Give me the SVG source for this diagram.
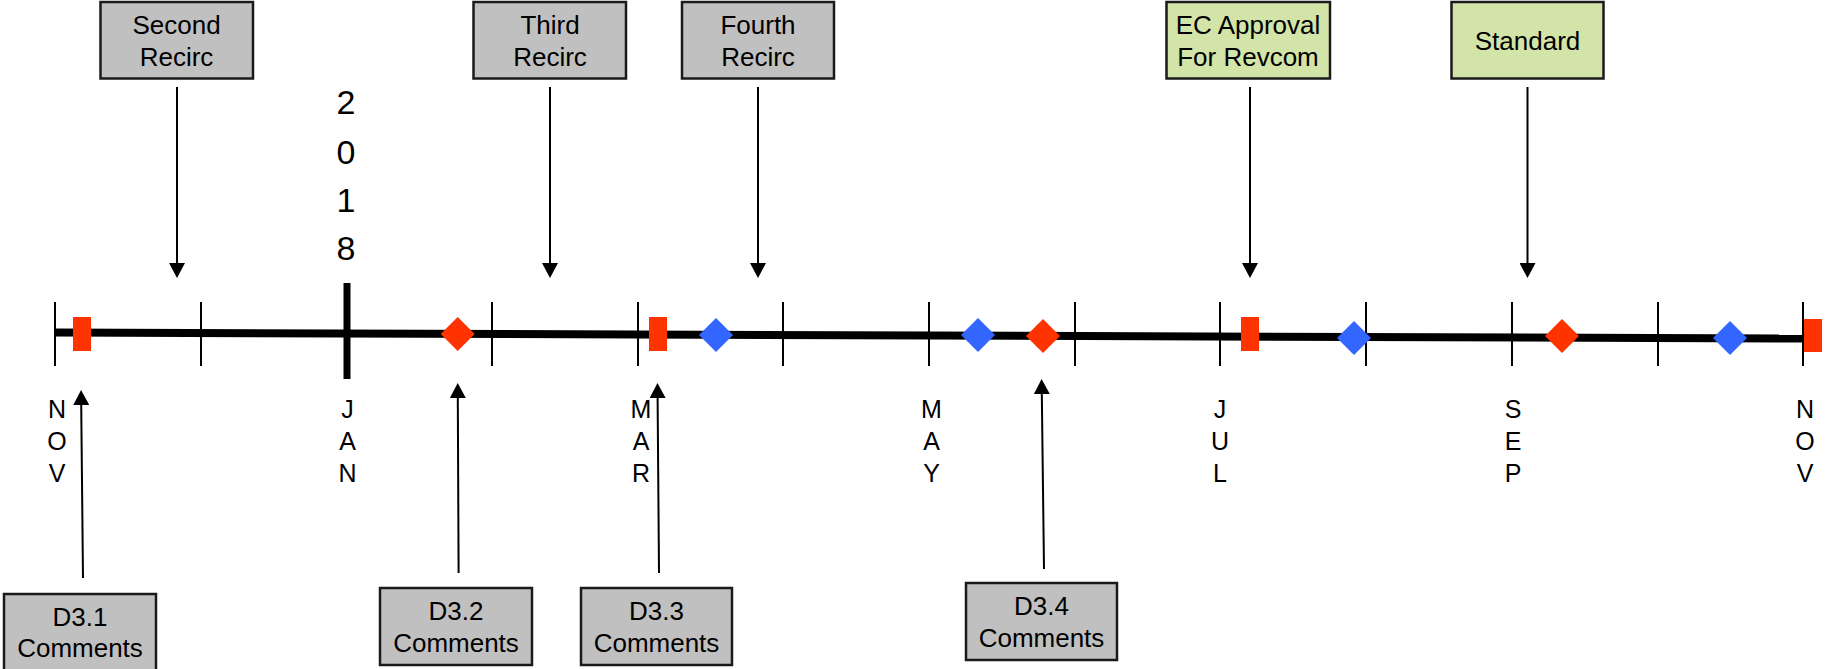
<svg xmlns="http://www.w3.org/2000/svg" width="1837" height="669" viewBox="0 0 1837 669">
<style>
text{font-family:"Liberation Sans",Arial,sans-serif;fill:#000}
.bt{font-size:26px;text-anchor:middle}
.mo{font-size:25px;text-anchor:middle}
.yr{font-size:34px;text-anchor:middle}
.gray{fill:#c0c0c0;stroke:#1a1a1a;stroke-width:2.5}
.green{fill:#d3e4a8;stroke:#1a1a1a;stroke-width:2.5}
.tick{stroke:#000;stroke-width:2}
.arr{stroke:#000;stroke-width:2;fill:none;marker-end:url(#ah)}
.red{fill:#ff3300}
.blue{fill:#3366ff}
</style>
<defs>
<marker id="ah" viewBox="0 0 15 16" refX="1" refY="8" markerWidth="15" markerHeight="16" markerUnits="userSpaceOnUse" orient="auto">
<path d="M0,0 L15,8 L0,16 z" fill="#000"/>
</marker>
</defs>
<rect width="1837" height="669" fill="#fff"/>

<g id="timeline">
<line x1="55" y1="332.5" x2="1805" y2="338.5" stroke="#000" stroke-width="8"/>
<line class="tick" x1="55" y1="302" x2="55" y2="366"/>
<line class="tick" x1="201" y1="302" x2="201" y2="366"/>
<line x1="347" y1="283" x2="347" y2="379" stroke="#000" stroke-width="7"/>
<line class="tick" x1="492" y1="302" x2="492" y2="366"/>
<line class="tick" x1="638" y1="302" x2="638" y2="366"/>
<line class="tick" x1="783" y1="302" x2="783" y2="366"/>
<line class="tick" x1="929" y1="302" x2="929" y2="366"/>
<line class="tick" x1="1075" y1="302" x2="1075" y2="366"/>
<line class="tick" x1="1220" y1="302" x2="1220" y2="366"/>
<line class="tick" x1="1366" y1="302" x2="1366" y2="366"/>
<line class="tick" x1="1512" y1="302" x2="1512" y2="366"/>
<line class="tick" x1="1658" y1="302" x2="1658" y2="366"/>
<line class="tick" x1="1803" y1="302" x2="1803" y2="366"/>
</g>

<g id="markers">
<rect class="red" x="73" y="317" width="18" height="34"/>
<polygon class="red" points="457.7,317 474.7,334 457.7,351 440.7,334"/>
<rect class="red" x="649" y="317" width="18" height="34"/>
<polygon class="blue" points="716,318 733,335 716,352 699,335"/>
<polygon class="blue" points="978,318 995,335 978,352 961,335"/>
<polygon class="red" points="1043,319 1060,336 1043,353 1026,336"/>
<rect class="red" x="1241" y="317" width="18" height="34"/>
<polygon class="blue" points="1354,321 1371,338 1354,355 1337,338"/>
<polygon class="red" points="1562,319 1579,336 1562,353 1545,336"/>
<polygon class="blue" points="1730,321 1747,338 1730,355 1713,338"/>
<rect class="red" x="1804" y="319" width="18" height="33"/>
</g>

<g id="year">
<text class="yr" x="346" y="114">2</text>
<text class="yr" x="346" y="164">0</text>
<text class="yr" x="346" y="212">1</text>
<text class="yr" x="346" y="260">8</text>
</g>

<g id="months">
<text class="mo" x="57" y="418">N</text><text class="mo" x="57" y="450">O</text><text class="mo" x="57" y="482">V</text>
<text class="mo" x="347.5" y="418">J</text><text class="mo" x="347.5" y="450">A</text><text class="mo" x="347.5" y="482">N</text>
<text class="mo" x="641" y="418">M</text><text class="mo" x="641" y="450">A</text><text class="mo" x="641" y="482">R</text>
<text class="mo" x="931.5" y="418">M</text><text class="mo" x="931.5" y="450">A</text><text class="mo" x="931.5" y="482">Y</text>
<text class="mo" x="1220" y="418">J</text><text class="mo" x="1220" y="450">U</text><text class="mo" x="1220" y="482">L</text>
<text class="mo" x="1513" y="418">S</text><text class="mo" x="1513" y="450">E</text><text class="mo" x="1513" y="482">P</text>
<text class="mo" x="1805" y="418">N</text><text class="mo" x="1805" y="450">O</text><text class="mo" x="1805" y="482">V</text>
</g>

<g id="second-recirc">
<rect class="gray" x="100.5" y="2" width="152.5" height="76.5"/>
<text class="bt" x="176.5" y="34">Second</text>
<text class="bt" x="176.5" y="66">Recirc</text>
</g>
<g id="third-recirc">
<rect class="gray" x="473.5" y="2" width="152.5" height="76.5"/>
<text class="bt" x="550" y="34">Third</text>
<text class="bt" x="550" y="66">Recirc</text>
</g>
<g id="fourth-recirc">
<rect class="gray" x="682" y="2" width="152" height="76.5"/>
<text class="bt" x="758" y="34">Fourth</text>
<text class="bt" x="758" y="66">Recirc</text>
</g>
<g id="ec-approval">
<rect class="green" x="1166.5" y="2" width="163.5" height="76.5"/>
<text class="bt" x="1248" y="34">EC Approval</text>
<text class="bt" x="1248" y="66">For Revcom</text>
</g>
<g id="standard">
<rect class="green" x="1451.5" y="2" width="152" height="76.5"/>
<text class="bt" x="1527.5" y="50">Standard</text>
</g>

<g id="d31">
<rect class="gray" x="4" y="594" width="152" height="80"/>
<text class="bt" x="80" y="626">D3.1</text>
<text class="bt" x="80" y="657">Comments</text>
</g>
<g id="d32">
<rect class="gray" x="380" y="588" width="152" height="77"/>
<text class="bt" x="456" y="620">D3.2</text>
<text class="bt" x="456" y="652">Comments</text>
</g>
<g id="d33">
<rect class="gray" x="581" y="588" width="151" height="77"/>
<text class="bt" x="656.5" y="620">D3.3</text>
<text class="bt" x="656.5" y="652">Comments</text>
</g>
<g id="d34">
<rect class="gray" x="966" y="583" width="151" height="77"/>
<text class="bt" x="1041.5" y="615">D3.4</text>
<text class="bt" x="1041.5" y="647">Comments</text>
</g>

<g id="connectors">
<line class="arr" x1="177" y1="87" x2="177" y2="264"/>
<line class="arr" x1="550" y1="87" x2="550" y2="264"/>
<line class="arr" x1="758" y1="87" x2="758" y2="264"/>
<line class="arr" x1="1250" y1="87" x2="1250" y2="264"/>
<line class="arr" x1="1527.5" y1="87" x2="1527.5" y2="264"/>
<line class="arr" x1="83" y1="578" x2="81.2" y2="404"/>
<line class="arr" x1="458.6" y1="573" x2="457.8" y2="397"/>
<line class="arr" x1="659" y1="573" x2="657.6" y2="397"/>
<line class="arr" x1="1044" y1="569" x2="1041.8" y2="393"/>
</g>
</svg>
